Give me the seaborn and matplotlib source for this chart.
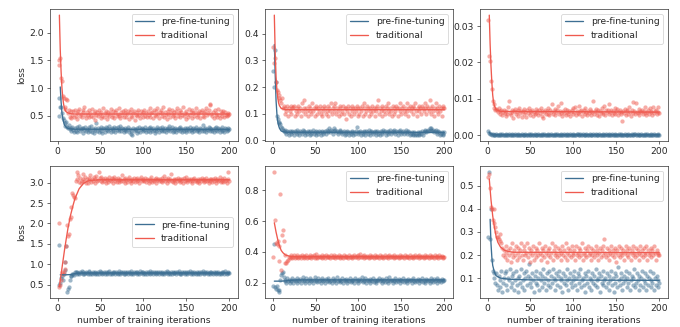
import matplotlib
matplotlib.use("Agg")
import matplotlib.pyplot as plt
import seaborn as sns

iters = list(range(1, 201))

# ---- panel 1 (top left)
p1_trad = [1.42, 1.50, 1.55, 1.18, 1.12, 0.85, 0.82, 0.65, 0.62, 0.80, 0.78, 0.55, 0.60, 0.48, 0.58, 0.45, 0.52, 0.59, 0.47, 0.60,
           0.50, 0.55, 0.44, 0.58, 0.62, 0.49, 0.53, 0.47, 0.60, 0.56, 0.66, 0.51, 0.45, 0.57, 0.52, 0.60, 0.48, 0.55, 0.50, 0.62,
           0.47, 0.54, 0.58, 0.43, 0.52, 0.56, 0.49, 0.61, 0.53, 0.46, 0.57, 0.50, 0.63, 0.48, 0.55, 0.59, 0.44, 0.52, 0.57, 0.50,
           0.54, 0.62, 0.47, 0.58, 0.51, 0.45, 0.56, 0.60, 0.49, 0.53, 0.64, 0.50, 0.46, 0.57, 0.52, 0.59, 0.48, 0.55, 0.61, 0.47,
           0.53, 0.58, 0.44, 0.56, 0.50, 0.62, 0.47, 0.54, 0.59, 0.43, 0.51, 0.57, 0.49, 0.60, 0.52, 0.46, 0.58, 0.53, 0.48, 0.56,
           0.61, 0.50, 0.55, 0.47, 0.59, 0.52, 0.63, 0.48, 0.54, 0.57, 0.45, 0.60, 0.51, 0.58, 0.49, 0.64, 0.53, 0.46, 0.56, 0.61,
           0.50, 0.55, 0.66, 0.48, 0.57, 0.52, 0.44, 0.59, 0.53, 0.62, 0.47, 0.55, 0.60, 0.49, 0.56, 0.51, 0.45, 0.58, 0.63, 0.50,
           0.54, 0.61, 0.47, 0.57, 0.52, 0.65, 0.49, 0.55, 0.44, 0.59, 0.53, 0.48, 0.62, 0.51, 0.56, 0.46, 0.60, 0.54, 0.50, 0.57,
           0.63, 0.48, 0.55, 0.52, 0.59, 0.45, 0.56, 0.61, 0.50, 0.54, 0.47, 0.58, 0.64, 0.51, 0.55, 0.60, 0.69, 0.72, 0.53, 0.49,
           0.57, 0.46, 0.60, 0.52, 0.55, 0.48, 0.62, 0.51, 0.45, 0.58, 0.54, 0.50, 0.59, 0.47, 0.56, 0.52, 0.49, 0.55, 0.51, 0.53]
p1_pre = [0.50, 0.82, 0.65, 0.66, 0.55, 0.45, 0.42, 0.36, 0.32, 0.38, 0.30, 0.27, 0.33, 0.25, 0.28, 0.22, 0.30, 0.24, 0.20, 0.27,
          0.23, 0.29, 0.21, 0.26, 0.31, 0.22, 0.25, 0.28, 0.19, 0.27, 0.24, 0.30, 0.22, 0.26, 0.20, 0.29, 0.25, 0.23, 0.32, 0.21,
          0.26, 0.18, 0.28, 0.24, 0.36, 0.22, 0.27, 0.20, 0.25, 0.30, 0.23, 0.19, 0.28, 0.26, 0.21, 0.29, 0.24, 0.27, 0.22, 0.31,
          0.25, 0.20, 0.28, 0.23, 0.26, 0.30, 0.21, 0.27, 0.24, 0.29, 0.22, 0.26, 0.31, 0.23, 0.28, 0.25, 0.20, 0.27, 0.24, 0.22,
          0.26, 0.29, 0.21, 0.25, 0.23, 0.17, 0.15, 0.28, 0.22, 0.26, 0.24, 0.19, 0.27, 0.23, 0.30, 0.21, 0.25, 0.28, 0.22, 0.26,
          0.24, 0.29, 0.20, 0.26, 0.23, 0.27, 0.21, 0.30, 0.25, 0.22, 0.28, 0.24, 0.19, 0.26, 0.23, 0.29, 0.25, 0.21, 0.27, 0.24,
          0.30, 0.22, 0.26, 0.23, 0.28, 0.20, 0.25, 0.27, 0.24, 0.31, 0.22, 0.26, 0.29, 0.21, 0.25, 0.23, 0.28, 0.20, 0.26, 0.24,
          0.27, 0.22, 0.29, 0.25, 0.21, 0.26, 0.23, 0.28, 0.24, 0.20, 0.27, 0.25, 0.22, 0.30, 0.24, 0.26, 0.21, 0.28, 0.23, 0.25,
          0.29, 0.22, 0.26, 0.24, 0.20, 0.27, 0.25, 0.23, 0.34, 0.22, 0.26, 0.28, 0.21, 0.25, 0.24, 0.30, 0.22, 0.27, 0.25, 0.23,
          0.26, 0.21, 0.28, 0.24, 0.30, 0.22, 0.27, 0.25, 0.20, 0.26, 0.23, 0.29, 0.24, 0.21, 0.27, 0.25, 0.22, 0.28, 0.24, 0.26]
p1_trad_lx = [2, 3, 4, 5, 6, 7, 8, 9, 10, 12, 15, 20, 200]
p1_trad_ly = [2.32, 1.70, 1.30, 1.00, 0.82, 0.70, 0.63, 0.59, 0.57, 0.55, 0.535, 0.53, 0.53]
p1_pre_lx = [3, 4, 5, 6, 7, 8, 10, 12, 15, 20, 200]
p1_pre_ly = [1.02, 0.75, 0.55, 0.45, 0.38, 0.33, 0.29, 0.27, 0.26, 0.255, 0.25]

# ---- panel 2 (top middle)
p2_trad = [0.35, 0.29, 0.31, 0.22, 0.19, 0.18, 0.17, 0.16, 0.15, 0.14, 0.16, 0.12, 0.13, 0.10, 0.12, 0.11, 0.13, 0.09, 0.12, 0.11,
           0.13, 0.10, 0.12, 0.125, 0.13, 0.09, 0.11, 0.12, 0.10, 0.13, 0.11, 0.12, 0.09, 0.14, 0.11, 0.12, 0.15, 0.10, 0.12, 0.11,
           0.09, 0.13, 0.11, 0.12, 0.10, 0.14, 0.11, 0.12, 0.09, 0.12, 0.13, 0.10, 0.12, 0.11, 0.13, 0.10, 0.12, 0.09, 0.11, 0.13,
           0.12, 0.10, 0.11, 0.13, 0.09, 0.12, 0.11, 0.14, 0.10, 0.12, 0.11, 0.13, 0.14, 0.10, 0.12, 0.11, 0.09, 0.13, 0.12, 0.10,
           0.11, 0.13, 0.10, 0.12, 0.08, 0.12, 0.11, 0.13, 0.10, 0.12, 0.09, 0.13, 0.11, 0.12, 0.10, 0.12, 0.11, 0.13, 0.09, 0.12,
           0.10, 0.12, 0.11, 0.13, 0.09, 0.12, 0.14, 0.10, 0.11, 0.13, 0.12, 0.09, 0.11, 0.12, 0.10, 0.13, 0.11, 0.12, 0.09, 0.12,
           0.11, 0.13, 0.15, 0.10, 0.12, 0.11, 0.13, 0.09, 0.12, 0.11, 0.10, 0.13, 0.12, 0.11, 0.14, 0.10, 0.12, 0.11, 0.09, 0.13,
           0.12, 0.10, 0.11, 0.13, 0.12, 0.09, 0.12, 0.11, 0.14, 0.10, 0.12, 0.13, 0.11, 0.10, 0.12, 0.14, 0.11, 0.09, 0.12, 0.13,
           0.11, 0.12, 0.10, 0.13, 0.12, 0.14, 0.11, 0.09, 0.12, 0.13, 0.11, 0.12, 0.10, 0.13, 0.12, 0.11, 0.14, 0.12, 0.10, 0.13,
           0.12, 0.11, 0.15, 0.10, 0.12, 0.13, 0.11, 0.09, 0.12, 0.14, 0.11, 0.12, 0.10, 0.13, 0.11, 0.12, 0.09, 0.13, 0.12, 0.12]
p2_pre = [0.26, 0.20, 0.34, 0.22, 0.09, 0.08, 0.07, 0.065, 0.06, 0.05, 0.045, 0.04, 0.035, 0.03, 0.04, 0.025, 0.035, 0.03, 0.02, 0.035,
          0.03, 0.025, 0.035, 0.03, 0.02, 0.035, 0.03, 0.025, 0.04, 0.03, 0.02, 0.035, 0.03, 0.025, 0.04, 0.03, 0.035, 0.02, 0.03, 0.025,
          0.035, 0.03, 0.02, 0.035, 0.025, 0.03, 0.04, 0.025, 0.03, 0.035, 0.02, 0.03, 0.025, 0.035, 0.03, 0.02, 0.035, 0.03, 0.025, 0.03,
          0.035, 0.025, 0.04, 0.03, 0.035, 0.045, 0.03, 0.04, 0.035, 0.025, 0.045, 0.035, 0.04, 0.03, 0.035, 0.025, 0.03, 0.04, 0.035, 0.03,
          0.025, 0.03, 0.035, 0.02, 0.03, 0.025, 0.035, 0.03, 0.02, 0.03, 0.025, 0.035, 0.03, 0.02, 0.03, 0.025, 0.035, 0.05, 0.03, 0.025,
          0.03, 0.035, 0.02, 0.03, 0.025, 0.035, 0.03, 0.02, 0.035, 0.03, 0.025, 0.04, 0.03, 0.02, 0.035, 0.03, 0.025, 0.03, 0.035, 0.02,
          0.03, 0.035, 0.025, 0.03, 0.02, 0.035, 0.03, 0.025, 0.04, 0.03, 0.035, 0.02, 0.03, 0.025, 0.035, 0.03, 0.04, 0.025, 0.03, 0.035,
          0.03, 0.04, 0.025, 0.035, 0.03, 0.02, 0.035, 0.03, 0.04, 0.025, 0.03, 0.035, 0.025, 0.03, 0.04, 0.03, 0.025, 0.035, 0.03, 0.02,
          0.025, 0.03, 0.02, 0.025, 0.03, 0.02, 0.025, 0.02, 0.03, 0.025, 0.02, 0.03, 0.025, 0.035, 0.02, 0.03, 0.035, 0.04, 0.03, 0.035,
          0.04, 0.035, 0.045, 0.04, 0.045, 0.035, 0.04, 0.03, 0.035, 0.04, 0.03, 0.025, 0.035, 0.03, 0.02, 0.025, 0.03, 0.02, 0.025, 0.03]
p2_trad_lx = [2, 3, 4, 5, 6, 7, 8, 10, 15, 200]
p2_trad_ly = [0.47, 0.33, 0.24, 0.19, 0.16, 0.14, 0.13, 0.12, 0.115, 0.115]
p2_pre_lx = [2, 3, 4, 5, 6, 7, 8, 10, 15, 200]
p2_pre_ly = [0.36, 0.25, 0.15, 0.10, 0.07, 0.055, 0.045, 0.035, 0.03, 0.03]

# ---- panel 3 (top right)
p3_trad = [0.0317, 0.0218, 0.0205, 0.0150, 0.0128, 0.0095, 0.0085, 0.0075, 0.0070, 0.0072, 0.0068, 0.0062, 0.0073, 0.0058, 0.0066, 0.0070, 0.0055, 0.0064, 0.0068, 0.0060,
           0.0052, 0.0067, 0.0059, 0.0078, 0.0093, 0.0061, 0.0055, 0.0070, 0.0063, 0.0048, 0.0066, 0.0072, 0.0058, 0.0064, 0.0069, 0.0053, 0.0075, 0.0061, 0.0067, 0.0050,
           0.0065, 0.0071, 0.0057, 0.0063, 0.0049, 0.0068, 0.0060, 0.0074, 0.0055, 0.0066, 0.0062, 0.0070, 0.0051, 0.0064, 0.0058, 0.0072, 0.0061, 0.0067, 0.0054, 0.0069,
           0.0060, 0.0075, 0.0052, 0.0066, 0.0046, 0.0063, 0.0070, 0.0057, 0.0065, 0.0059, 0.0073, 0.0054, 0.0068, 0.0062, 0.0086, 0.0058, 0.0066, 0.0071, 0.0055, 0.0064,
           0.0069, 0.0080, 0.0057, 0.0065, 0.0061, 0.0087, 0.0053, 0.0067, 0.0060, 0.0072, 0.0056, 0.0064, 0.0070, 0.0058, 0.0066, 0.0052, 0.0062, 0.0068, 0.0059, 0.0073,
           0.0064, 0.0078, 0.0055, 0.0067, 0.0061, 0.0080, 0.0057, 0.0065, 0.0070, 0.0053, 0.0062, 0.0068, 0.0058, 0.0074, 0.0063, 0.0056, 0.0066, 0.0060, 0.0071, 0.0054,
           0.0067, 0.0062, 0.0095, 0.0059, 0.0065, 0.0072, 0.0056, 0.0063, 0.0069, 0.0052, 0.0066, 0.0061, 0.0075, 0.0058, 0.0064, 0.0080, 0.0055, 0.0068, 0.0062, 0.0070,
           0.0057, 0.0086, 0.0063, 0.0069, 0.0054, 0.0066, 0.0060, 0.0073, 0.0058, 0.0065, 0.0071, 0.0055, 0.0062, 0.0068, 0.0059, 0.0064, 0.0038, 0.0067, 0.0061, 0.0072,
           0.0056, 0.0065, 0.0070, 0.0058, 0.0078, 0.0063, 0.0053, 0.0068, 0.0090, 0.0061, 0.0066, 0.0057, 0.0089, 0.0064, 0.0060, 0.0072, 0.0055, 0.0067, 0.0062, 0.0070,
           0.0058, 0.0066, 0.0061, 0.0077, 0.0055, 0.0064, 0.0069, 0.0059, 0.0073, 0.0062, 0.0066, 0.0054, 0.0078, 0.0060, 0.0065, 0.0070, 0.0057, 0.0063, 0.0077, 0.0061]
p3_pre = [0.0012, 0.0006, 0.0003, 0.0002, 0.0001, 0.0002, 0.0001, 0.0000, 0.0001, 0.0002, 0.0001, 0.0001, 0.0000, 0.0002, 0.0001, 0.0001, 0.0002, 0.0000, 0.0001, 0.0001,
          0.0002, 0.0001, 0.0000, 0.0001, 0.0002, 0.0001, 0.0001, 0.0000, 0.0002, 0.0001, 0.0001, 0.0002, 0.0000, 0.0001, 0.0001, 0.0002, 0.0001, 0.0000, 0.0001, 0.0002,
          0.0001, 0.0000, 0.0001, 0.0002, 0.0001, 0.0001, 0.0000, 0.0002, 0.0001, 0.0001, 0.0002, 0.0000, 0.0001, 0.0001, 0.0002, 0.0001, 0.0000, 0.0001, 0.0002, 0.0001,
          0.0001, 0.0000, 0.0002, 0.0001, 0.0001, 0.0002, 0.0000, 0.0001, 0.0001, 0.0002, 0.0001, 0.0000, 0.0001, 0.0002, 0.0001, 0.0001, 0.0000, 0.0002, 0.0001, 0.0001,
          0.0002, 0.0000, 0.0001, 0.0001, 0.0002, 0.0001, 0.0000, 0.0001, 0.0002, 0.0001, 0.0001, 0.0000, 0.0002, 0.0001, 0.0001, 0.0002, 0.0000, 0.0001, 0.0001, 0.0002,
          0.0001, 0.0000, 0.0001, 0.0002, 0.0004, 0.0001, 0.0000, 0.0002, 0.0001, 0.0001, 0.0002, 0.0000, 0.0001, 0.0001, 0.0002, 0.0001, 0.0000, 0.0001, 0.0002, 0.0001,
          0.0001, 0.0000, 0.0002, 0.0001, 0.0001, 0.0002, 0.0000, 0.0001, 0.0001, 0.0002, 0.0001, 0.0000, 0.0001, 0.0002, 0.0001, 0.0001, 0.0000, 0.0002, 0.0001, 0.0001,
          0.0002, 0.0000, 0.0001, 0.0001, 0.0002, 0.0001, 0.0000, 0.0001, 0.0002, 0.0001, 0.0001, 0.0000, 0.0002, 0.0001, 0.0001, 0.0002, 0.0000, 0.0001, 0.0001, 0.0002,
          0.0001, 0.0000, 0.0001, 0.0002, 0.0001, 0.0001, 0.0000, 0.0002, 0.0001, 0.0001, 0.0002, 0.0003, 0.0001, 0.0001, 0.0002, 0.0001, 0.0000, 0.0001, 0.0002, 0.0001,
          0.0001, 0.0000, 0.0002, 0.0001, 0.0001, 0.0002, 0.0000, 0.0001, 0.0001, 0.0002, 0.0001, 0.0000, 0.0001, 0.0002, 0.0001, 0.0001, 0.0000, 0.0002, 0.0001, 0.0001]
p3_trad_lx = [2, 3, 4, 5, 6, 7, 8, 10, 15, 200]
p3_trad_ly = [0.033, 0.025, 0.019, 0.0145, 0.011, 0.009, 0.008, 0.007, 0.0065, 0.0063]
p3_pre_lx = [2, 3, 5, 10, 200]
p3_pre_ly = [0.0008, 0.0004, 0.0002, 0.0001, 0.0001]

# ---- panel 4 (bottom left)
p4_trad = [2.00, 0.45, 0.50, 0.62, 0.80, 0.75, 0.82, 0.88, 1.05, 1.45, 1.95, 1.70, 1.75, 2.10, 2.15, 2.40, 2.75, 2.70, 2.65, 2.62,
           3.05, 3.25, 3.08, 3.18, 3.02, 3.12, 3.00, 3.05, 3.22, 3.10, 3.04, 3.15, 3.00, 3.08, 2.98, 3.12, 3.06, 3.18, 3.02, 3.10,
           3.05, 3.13, 3.00, 3.09, 3.16, 3.03, 3.07, 3.25, 3.11, 3.05, 3.14, 3.01, 3.08, 3.04, 3.12, 2.98, 3.06, 3.10, 3.02, 3.15,
           3.07, 3.03, 3.11, 2.99, 3.08, 3.13, 3.04, 3.09, 3.01, 3.12, 3.06, 3.02, 3.10, 3.05, 3.18, 3.03, 3.08, 3.00, 3.11, 3.06,
           3.02, 3.09, 3.14, 3.04, 3.07, 2.99, 3.10, 3.05, 3.12, 3.01, 3.08, 3.04, 3.11, 3.06, 3.00, 3.09, 3.13, 3.03, 3.07, 3.10,
           3.04, 3.11, 3.02, 3.08, 3.06, 2.98, 3.10, 3.05, 3.13, 3.01, 3.07, 3.04, 3.09, 3.12, 3.00, 3.06, 3.10, 3.03, 3.08, 3.05,
           3.11, 3.02, 3.07, 3.16, 3.04, 3.09, 3.00, 3.06, 3.12, 3.03, 3.08, 3.20, 3.05, 3.01, 3.10, 3.07, 2.99, 3.09, 3.04, 3.12,
           3.06, 3.02, 3.10, 3.05, 3.08, 2.98, 3.11, 3.04, 3.07, 3.13, 3.01, 3.06, 3.09, 3.03, 3.10, 3.05, 3.00, 3.08, 3.12, 3.04,
           3.07, 3.02, 3.10, 3.05, 2.99, 3.09, 3.04, 3.12, 3.06, 3.01, 3.08, 3.03, 3.11, 3.05, 3.07, 2.98, 3.10, 3.04, 3.08, 3.02,
           3.09, 3.05, 3.12, 3.00, 3.06, 3.10, 3.03, 3.07, 3.14, 3.01, 3.05, 3.09, 3.02, 3.11, 3.04, 3.06, 3.00, 3.08, 3.26, 3.03]
p4_pre = [0.50, 1.47, 0.55, 0.65, 0.70, 0.60, 0.75, 0.85, 1.05, 1.45, 0.32, 0.38, 0.45, 0.62, 0.70, 0.72, 0.75, 0.77, 0.74, 0.80,
          0.80, 0.77, 0.82, 0.79, 0.76, 0.81, 0.78, 0.84, 0.77, 0.80, 0.75, 0.79, 0.82, 0.78, 0.76, 0.80, 0.83, 0.77, 0.79, 0.75,
          0.81, 0.78, 0.76, 0.82, 0.79, 0.77, 0.80, 0.75, 0.83, 0.78, 0.80, 0.76, 0.79, 0.82, 0.77, 0.81, 0.78, 0.75, 0.80, 0.83,
          0.77, 0.79, 0.76, 0.81, 0.78, 0.82, 0.75, 0.80, 0.78, 0.77, 0.83, 0.79, 0.76, 0.81, 0.78, 0.80, 0.75, 0.82, 0.77, 0.79,
          0.81, 0.76, 0.80, 0.78, 0.83, 0.77, 0.79, 0.75, 0.82, 0.78, 0.80, 0.76, 0.81, 0.79, 0.77, 0.84, 0.78, 0.80, 0.76, 0.82,
          0.79, 0.77, 0.81, 0.75, 0.80, 0.78, 0.83, 0.76, 0.79, 0.81, 0.77, 0.80, 0.78, 0.82, 0.76, 0.79, 0.81, 0.77, 0.80, 0.78,
          0.75, 0.82, 0.79, 0.77, 0.80, 0.78, 0.83, 0.76, 0.81, 0.79, 0.77, 0.80, 0.75, 0.82, 0.78, 0.79, 0.81, 0.76, 0.80, 0.78,
          0.83, 0.77, 0.79, 0.76, 0.81, 0.78, 0.80, 0.75, 0.82, 0.79, 0.77, 0.80, 0.78, 0.84, 0.76, 0.79, 0.81, 0.77, 0.80, 0.78,
          0.76, 0.82, 0.79, 0.77, 0.80, 0.75, 0.81, 0.78, 0.83, 0.79, 0.76, 0.80, 0.78, 0.82, 0.77, 0.79, 0.81, 0.76, 0.80, 0.78,
          0.77, 0.81, 0.79, 0.76, 0.82, 0.78, 0.80, 0.77, 0.79, 0.75, 0.81, 0.78, 0.80, 0.77, 0.83, 0.79, 0.76, 0.80, 0.78, 0.79]
p4_trad_lx = [2, 4, 6, 8, 10, 12, 15, 18, 20, 25, 30, 35, 40, 50, 200]
p4_trad_ly = [0.45, 0.75, 1.05, 1.35, 1.62, 1.88, 2.20, 2.45, 2.60, 2.85, 2.98, 3.04, 3.06, 3.07, 3.07]
p4_pre_lx = [3, 10, 15, 18, 22, 30, 200]
p4_pre_ly = [0.74, 0.74, 0.745, 0.76, 0.775, 0.785, 0.785]

# ---- panel 5 (bottom middle)
p5_trad = [0.37, 0.92, 0.61, 0.46, 0.45, 0.47, 0.44, 0.34, 0.78, 0.28, 0.51, 0.54, 0.47, 0.38, 0.33, 0.33, 0.34, 0.35, 0.37, 0.36,
           0.37, 0.38, 0.36, 0.37, 0.38, 0.36, 0.37, 0.365, 0.38, 0.36, 0.37, 0.375, 0.36, 0.38, 0.37, 0.36, 0.375, 0.37, 0.38, 0.36,
           0.37, 0.365, 0.38, 0.37, 0.36, 0.375, 0.37, 0.38, 0.36, 0.37, 0.385, 0.36, 0.37, 0.375, 0.365, 0.37, 0.38, 0.36, 0.37, 0.375,
           0.36, 0.38, 0.37, 0.365, 0.375, 0.37, 0.36, 0.38, 0.37, 0.365, 0.37, 0.38, 0.36, 0.375, 0.37, 0.365, 0.38, 0.37, 0.36, 0.375,
           0.37, 0.36, 0.38, 0.37, 0.365, 0.375, 0.37, 0.36, 0.38, 0.365, 0.37, 0.375, 0.36, 0.37, 0.38, 0.365, 0.37, 0.375, 0.36, 0.38,
           0.37, 0.385, 0.365, 0.37, 0.375, 0.36, 0.38, 0.37, 0.365, 0.375, 0.37, 0.36, 0.38, 0.37, 0.365, 0.375, 0.37, 0.36, 0.38, 0.37,
           0.365, 0.375, 0.37, 0.36, 0.38, 0.37, 0.365, 0.375, 0.36, 0.37, 0.38, 0.365, 0.37, 0.375, 0.36, 0.38, 0.37, 0.365, 0.375, 0.37,
           0.36, 0.38, 0.37, 0.365, 0.375, 0.37, 0.36, 0.38, 0.37, 0.365, 0.375, 0.37, 0.36, 0.38, 0.37, 0.365, 0.375, 0.37, 0.36, 0.38,
           0.37, 0.365, 0.375, 0.36, 0.37, 0.38, 0.365, 0.37, 0.375, 0.36, 0.38, 0.37, 0.365, 0.375, 0.37, 0.36, 0.38, 0.37, 0.365, 0.375,
           0.37, 0.36, 0.38, 0.37, 0.365, 0.375, 0.37, 0.36, 0.38, 0.365, 0.37, 0.375, 0.36, 0.38, 0.37, 0.365, 0.375, 0.37, 0.36, 0.37]
p5_pre = [0.18, 0.45, 0.17, 0.16, 0.18, 0.15, 0.14, 0.15, 0.22, 0.25, 0.26, 0.27, 0.24, 0.21, 0.22, 0.20, 0.23, 0.21, 0.22, 0.20,
          0.22, 0.21, 0.23, 0.20, 0.22, 0.215, 0.21, 0.23, 0.20, 0.22, 0.21, 0.225, 0.20, 0.22, 0.235, 0.21, 0.22, 0.20, 0.23, 0.21,
          0.22, 0.20, 0.215, 0.23, 0.21, 0.22, 0.20, 0.22, 0.235, 0.21, 0.22, 0.205, 0.23, 0.21, 0.22, 0.20, 0.215, 0.23, 0.21, 0.22,
          0.20, 0.225, 0.21, 0.22, 0.23, 0.205, 0.21, 0.22, 0.20, 0.23, 0.215, 0.21, 0.22, 0.20, 0.235, 0.21, 0.22, 0.205, 0.22, 0.21,
          0.23, 0.20, 0.22, 0.215, 0.21, 0.225, 0.20, 0.22, 0.21, 0.23, 0.205, 0.22, 0.21, 0.22, 0.20, 0.23, 0.215, 0.21, 0.22, 0.20,
          0.225, 0.21, 0.22, 0.235, 0.205, 0.22, 0.21, 0.23, 0.20, 0.22, 0.215, 0.21, 0.225, 0.20, 0.22, 0.21, 0.23, 0.205, 0.22, 0.21,
          0.20, 0.22, 0.215, 0.23, 0.21, 0.22, 0.20, 0.225, 0.21, 0.22, 0.205, 0.23, 0.21, 0.22, 0.20, 0.235, 0.21, 0.22, 0.215, 0.20,
          0.22, 0.21, 0.23, 0.205, 0.22, 0.21, 0.225, 0.20, 0.22, 0.215, 0.21, 0.23, 0.205, 0.22, 0.21, 0.22, 0.20, 0.225, 0.21, 0.22,
          0.215, 0.20, 0.22, 0.23, 0.21, 0.205, 0.22, 0.21, 0.225, 0.20, 0.22, 0.215, 0.21, 0.23, 0.205, 0.22, 0.21, 0.20, 0.225, 0.215,
          0.21, 0.22, 0.20, 0.23, 0.21, 0.22, 0.205, 0.225, 0.21, 0.22, 0.20, 0.23, 0.215, 0.21, 0.22, 0.205, 0.225, 0.21, 0.22, 0.215]
p5_trad_lx = [2, 4, 6, 8, 10, 12, 15, 20, 25, 200]
p5_trad_ly = [0.59, 0.53, 0.48, 0.44, 0.41, 0.395, 0.38, 0.372, 0.37, 0.37]
p5_pre_lx = [2, 10, 15, 20, 30, 200]
p5_pre_ly = [0.21, 0.21, 0.212, 0.215, 0.218, 0.218]

# ---- panel 6 (bottom right)
p6_trad = [0.54, 0.55, 0.49, 0.41, 0.40, 0.35, 0.40, 0.34, 0.32, 0.30, 0.28, 0.28, 0.27, 0.29, 0.26, 0.25, 0.23, 0.20, 0.22, 0.19,
           0.21, 0.24, 0.18, 0.22, 0.20, 0.23, 0.17, 0.21, 0.25, 0.19, 0.22, 0.20, 0.24, 0.18, 0.21, 0.23, 0.19, 0.22, 0.25, 0.20,
           0.18, 0.22, 0.24, 0.20, 0.21, 0.25, 0.19, 0.23, 0.17, 0.21, 0.22, 0.20, 0.24, 0.18, 0.21, 0.23, 0.19, 0.22, 0.20, 0.25,
           0.21, 0.18, 0.23, 0.20, 0.22, 0.19, 0.24, 0.21, 0.17, 0.22, 0.20, 0.23, 0.19, 0.21, 0.25, 0.18, 0.22, 0.20, 0.24, 0.21,
           0.19, 0.23, 0.20, 0.22, 0.18, 0.21, 0.24, 0.20, 0.22, 0.19, 0.25, 0.21, 0.18, 0.23, 0.20, 0.22, 0.19, 0.24, 0.21, 0.20,
           0.22, 0.18, 0.24, 0.20, 0.21, 0.23, 0.19, 0.22, 0.20, 0.25, 0.18, 0.21, 0.23, 0.20, 0.19, 0.22, 0.24, 0.20, 0.21, 0.18,
           0.23, 0.20, 0.22, 0.19, 0.21, 0.24, 0.20, 0.22, 0.18, 0.21, 0.23, 0.19, 0.22, 0.20, 0.24, 0.27, 0.21, 0.19, 0.23, 0.20,
           0.22, 0.18, 0.21, 0.24, 0.20, 0.22, 0.19, 0.23, 0.21, 0.17, 0.22, 0.20, 0.24, 0.19, 0.21, 0.23, 0.20, 0.22, 0.18, 0.21,
           0.24, 0.20, 0.22, 0.19, 0.23, 0.21, 0.18, 0.22, 0.20, 0.24, 0.21, 0.19, 0.23, 0.20, 0.22, 0.18, 0.21, 0.24, 0.20, 0.22,
           0.19, 0.23, 0.21, 0.20, 0.24, 0.18, 0.22, 0.20, 0.21, 0.23, 0.19, 0.22, 0.20, 0.24, 0.21, 0.18, 0.22, 0.20, 0.21, 0.20]
p6_pre = [0.28, 0.56, 0.27, 0.40, 0.18, 0.13, 0.12, 0.10, 0.08, 0.12, 0.07, 0.05, 0.11, 0.09, 0.06, 0.13, 0.04, 0.08, 0.10, 0.12,
          0.07, 0.13, 0.05, 0.10, 0.09, 0.14, 0.06, 0.11, 0.08, 0.12, 0.05, 0.09, 0.13, 0.07, 0.10, 0.04, 0.11, 0.08, 0.14, 0.06,
          0.09, 0.12, 0.05, 0.10, 0.13, 0.07, 0.11, 0.16, 0.08, 0.10, 0.06, 0.12, 0.09, 0.04, 0.11, 0.08, 0.13, 0.07, 0.10, 0.05,
          0.12, 0.09, 0.06, 0.11, 0.14, 0.08, 0.10, 0.05, 0.12, 0.07, 0.09, 0.13, 0.06, 0.11, 0.08, 0.14, 0.10, 0.05, 0.09, 0.12,
          0.07, 0.11, 0.13, 0.06, 0.09, 0.10, 0.04, 0.12, 0.08, 0.11, 0.07, 0.14, 0.09, 0.05, 0.10, 0.12, 0.08, 0.06, 0.11, 0.09,
          0.13, 0.07, 0.10, 0.05, 0.12, 0.08, 0.11, 0.14, 0.06, 0.09, 0.10, 0.07, 0.12, 0.04, 0.11, 0.08, 0.13, 0.06, 0.10, 0.09,
          0.05, 0.12, 0.08, 0.11, 0.07, 0.14, 0.09, 0.06, 0.10, 0.12, 0.04, 0.11, 0.08, 0.13, 0.07, 0.09, 0.10, 0.06, 0.12, 0.08,
          0.11, 0.05, 0.09, 0.13, 0.07, 0.10, 0.04, 0.12, 0.08, 0.11, 0.06, 0.15, 0.09, 0.07, 0.10, 0.12, 0.05, 0.08, 0.11, 0.09,
          0.13, 0.06, 0.10, 0.08, 0.12, 0.05, 0.09, 0.11, 0.07, 0.10, 0.14, 0.06, 0.08, 0.12, 0.09, 0.05, 0.11, 0.07, 0.10, 0.13,
          0.06, 0.09, 0.12, 0.08, 0.05, 0.11, 0.07, 0.10, 0.13, 0.06, 0.09, 0.08, 0.12, 0.05, 0.10, 0.07, 0.11, 0.06, 0.09, 0.08]
p6_trad_lx = [2, 4, 6, 8, 10, 12, 15, 20, 25, 30, 200]
p6_trad_ly = [0.53, 0.44, 0.37, 0.32, 0.28, 0.255, 0.235, 0.22, 0.215, 0.212, 0.21]
p6_pre_lx = [3, 4, 5, 6, 8, 10, 15, 25, 50, 200]
p6_pre_ly = [0.355, 0.25, 0.19, 0.155, 0.125, 0.11, 0.10, 0.095, 0.092, 0.09]

legend_locs = ["upper right", "upper right", "upper right", "center right", "upper right", "upper right"]

blue = "#3d6f93"
red = "#ef5a4f"

sns.set_style("ticks")
plt.rcParams.update({"font.size": 11, "xtick.labelsize": 11, "ytick.labelsize": 11,
                     "legend.fontsize": 11, "axes.labelsize": 11})
fig, axes = plt.subplots(2, 3, figsize=(680 / 60, 327 / 60), dpi=60)
plt.subplots_adjust(left=0.0735, right=0.982, top=0.972, bottom=0.089, wspace=0.144, hspace=0.19)

panels = [
    (p1_pre, p1_trad, p1_pre_lx, p1_pre_ly, p1_trad_lx, p1_trad_ly),
    (p2_pre, p2_trad, p2_pre_lx, p2_pre_ly, p2_trad_lx, p2_trad_ly),
    (p3_pre, p3_trad, p3_pre_lx, p3_pre_ly, p3_trad_lx, p3_trad_ly),
    (p4_pre, p4_trad, p4_pre_lx, p4_pre_ly, p4_trad_lx, p4_trad_ly),
    (p5_pre, p5_trad, p5_pre_lx, p5_pre_ly, p5_trad_lx, p5_trad_ly),
    (p6_pre, p6_trad, p6_pre_lx, p6_pre_ly, p6_trad_lx, p6_trad_ly),
]

for i, (ax, (pre, trad, plx, ply, tlx, tly)) in enumerate(zip(axes.flat, panels)):
    sns.scatterplot(x=iters, y=pre, color=blue, alpha=0.5, s=26, linewidth=0, ax=ax)
    sns.scatterplot(x=iters, y=trad, color=red, alpha=0.5, s=26, linewidth=0, ax=ax)
    sns.lineplot(x=plx, y=ply, color=blue, linewidth=1.6, ax=ax, label="pre-fine-tuning")
    sns.lineplot(x=tlx, y=tly, color=red, linewidth=1.6, ax=ax, label="traditional")
    ax.legend(loc=legend_locs[i])
    ax.set_xticks([0, 50, 100, 150, 200])
    if i % 3 == 0:
        ax.set_ylabel("loss")
    if i >= 3:
        ax.set_xlabel("number of training iterations")

plt.savefig("out.png", dpi=60)
